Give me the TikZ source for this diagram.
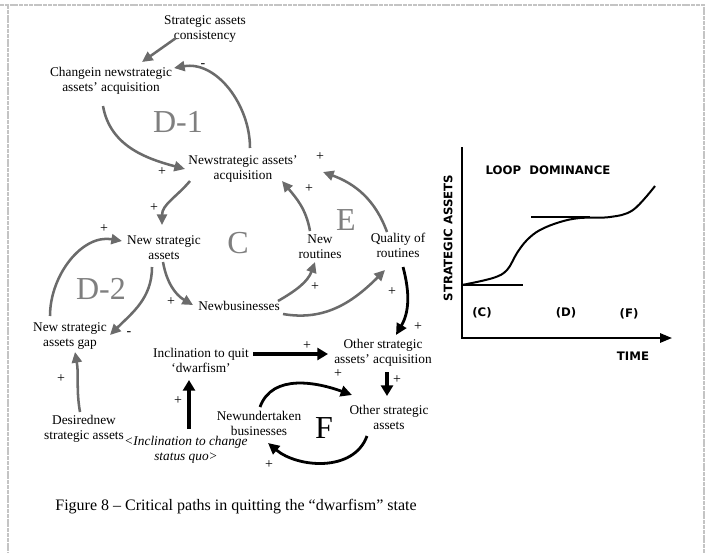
\documentclass[tikz,border=0pt]{standalone}
\usepackage{fontspec}
\setmainfont{Liberation Serif}
\newfontfamily\plotfont{DejaVu Sans}
\usepackage{tikz}
\usetikzlibrary{arrows.meta, calc}
\definecolor{cdgrey}{HTML}{6B6B6B}
\definecolor{cdloop}{HTML}{7F7F7F}
\definecolor{cdframe}{HTML}{C4C4C4}

\begin{document}
\begin{tikzpicture}[x=0.75pt, y=0.75pt,
  var/.style={align=center, inner sep=1pt, font=\fontsize{10}{11.25}\selectfont},
  loopname/.style={inner sep=0pt, text=cdloop, font=\fontsize{24}{24}\selectfont},
  sign/.style={inner sep=0pt, font=\fontsize{10.5}{10.5}\selectfont},
  glink/.style={draw=cdgrey, line width=1.9pt, -{Triangle[length=8pt, width=7.5pt]}},
  blink/.style={draw=black, line width=2.1pt, -{Triangle[length=8.5pt, width=8pt]}},
  bthick/.style={draw=black, line width=2.8pt, -{Triangle[length=8pt, width=9pt]}},
  frame/.style={draw=cdframe, line width=2pt, dash pattern=on 3pt off 0.6pt},
  plotlab/.style={inner sep=0pt, font=\plotfont\bfseries\fontsize{8.8}{10}\selectfont}]
  \useasboundingbox (0,0) rectangle (709,-553);
  \draw[frame] (0,-5) -- (704,-5) -- (704,-553);
  \draw[frame] (8,-5) -- (8,-553);

  \node[var] (sac) at (205,-29) {Strategic assets\\consistency};
  \node[var] (chg) at (111,-81) {Changein newstrategic\\assets’ acquisition};
  \node[var] (acq) at (243,-169) {Newstrategic assets’\\acquisition};
  \node[var] (nsa) at (164,-248) {New strategic\\assets};
  \node[var] (nrt) at (320,-247) {New\\routines};
  \node[var] (qrt) at (398,-245) {Quality of\\routines};
  \node[var] (nbs) at (239,-306) {Newbusinesses};
  \node[var] (gap) at (70,-336) {New strategic\\assets gap};
  \node[var] (des) at (84,-429) {Desirednew\\strategic assets};
  \node[var] (iqd) at (201,-360) {Inclination to quit\\‘dwarfism’};
  \node[var] (osa) at (383,-353) {Other strategic\\assets’ acquisition};
  \node[var] (osn) at (389,-417) {Other strategic\\assets};
  \node[var] (nub) at (259,-423) {Newundertaken\\businesses};
  \node[var, font=\itshape\fontsize{10}{11.25}\selectfont] (icq) at (186,-450) {<Inclination to change\\status quo>};

  \node[loopname] (ld1) at (178,-122) {D-1};
  \node[loopname] (lc) at (238,-243) {C};
  \node[loopname] (ld2) at (101,-289) {D-2};
  \node[loopname] (le) at (346,-220) {E};
  \node[loopname, text=black] (lf) at (324,-428) {F};

  \draw[glink] ([shift={(-29,-9)}]sac.center) -- ([shift={(31,19)}]chg.center);
  \draw[glink] ([shift={(7,21)}]acq.center) to[out=90, in=10] ([shift={(63,13)}]chg.center);
  \draw[glink] ([shift={(-8,-25)}]chg.center) to[out=-80, in=165] ([shift={(-58,0)}]acq.center);
  \draw[glink] ([shift={(-53,-12)}]acq.center) to[out=-130, in=90] ([shift={(-2,23)}]nsa.center);
  \draw[glink] ([shift={(-10,16)}]nrt.center) to[out=100, in=-50] ([shift={(39,-12)}]acq.center);
  \draw[glink] ([shift={(-11,13)}]qrt.center) to[out=110, in=-20] ([shift={(80,-3)}]acq.center);
  \draw[glink] ([shift={(-1,-14)}]nsa.center) to[out=-80, in=150] ([shift={(-46,1)}]nbs.center);
  \draw[glink] ([shift={(39,5)}]nbs.center) to[out=30, in=-110] ([shift={(-5,-15)}]nrt.center);
  \draw[glink] ([shift={(44,-8)}]nbs.center) to[out=-10, in=-135] ([shift={(-13,-25)}]qrt.center);
  \draw[glink] ([shift={(-20,20)}]gap.center) to[out=90, in=170] ([shift={(-42,7)}]nsa.center);
  \draw[glink] ([shift={(-12,-19)}]nsa.center) to[out=-90, in=45] ([shift={(40,1)}]gap.center);
  \draw[glink] ([shift={(-4,17)}]des.center) to[out=100, in=-80] ([shift={(5,-16)}]gap.center);
  \draw[bthick] ([shift={(3,21)}]icq.center) -- ([shift={(-12,-20)}]iqd.center);
  \draw[bthick] ([shift={(52,6)}]iqd.center) -- ([shift={(-55,-1)}]osa.center);
  \draw[bthick] ([shift={(4,-19)}]osa.center) -- ([shift={(-2,21)}]osn.center);
  \draw[blink] ([shift={(5,-22)}]qrt.center) to[out=-75, in=60] ([shift={(13,18)}]osa.center);
  \draw[blink] ([shift={(1,16)}]nub.center) to[out=70, in=160] ([shift={(-37,22)}]osn.center);
  \draw[blink] ([shift={(-22,-19)}]osn.center) to[out=-110, in=-40] ([shift={(9,-20)}]nub.center);

  \foreach \pos/\sg [count=\i] in {{203,-66}/-, {162,-172}/+, {154,-208}/+, {309,-189}/+,
      {320,-157}/+, {104,-229}/+, {129,-334}/-, {171,-302}/+, {315,-287}/+, {392,-292}/+,
      {61,-379}/+, {178,-401}/+, {307,-346}/+, {397,-380}/+, {418,-327}/+, {338,-374}/+,
      {269,-465}/+}
    \node[sign] (sg\i) at (\pos) {\sg};

  \draw[line width=1.5pt, -{Triangle[length=9pt, width=7pt]}] (462,-147) -- (462,-338) -- (672,-338);
  \draw[line width=1.5pt] plot[smooth, tension=0.6] coordinates {(462,-285) (493,-278) (507,-270)
    (517,-253) (527,-240) (540,-230) (560,-222) (580,-218) (610,-217) (633,-210) (655,-186)};
  \draw[line width=1.5pt] (462,-285) -- (523,-285);
  \draw[line width=1.5pt] (531,-217) -- (590,-217);
  \node[plotlab] (title) at (548,-170) {LOOP\ \ DOMINANCE};
  \node[plotlab, rotate=90] (yax) at (448,-238) {STRATEGIC ASSETS};
  \node[plotlab] (xax) at (633,-356) {TIME};
  \node[plotlab] (pc) at (482,-313) {(C)};
  \node[plotlab] (pd) at (566,-313) {(D)};
  \node[plotlab] (pf) at (629,-314) {(F)};

  \node[font=\fontsize{12}{14}\selectfont] (capt) at (236,-507) {Figure 8 – Critical paths in quitting the “dwarfism” state};
\end{tikzpicture}
\end{document}
